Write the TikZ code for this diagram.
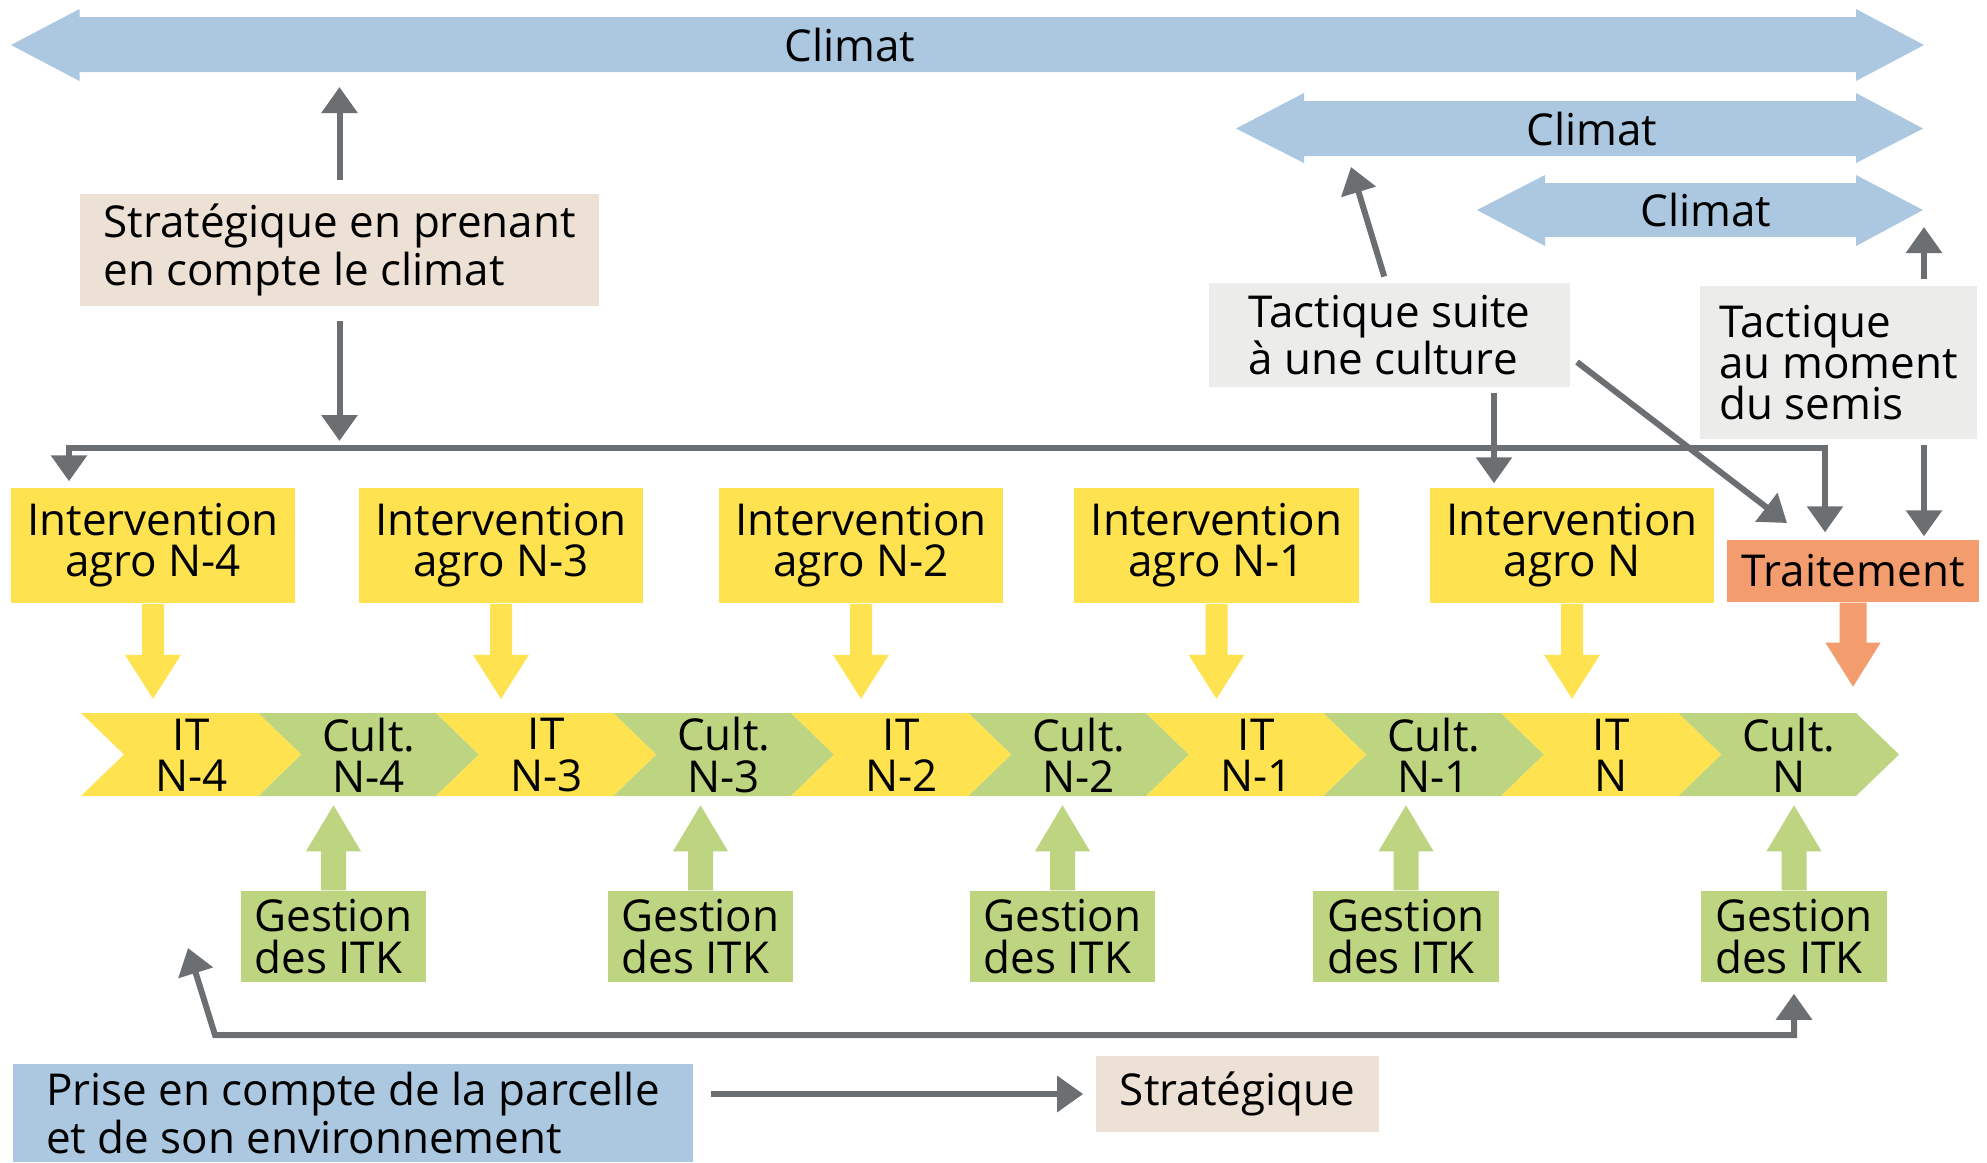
\documentclass[tikz,border=0pt]{standalone}
\usepackage{fontspec}
\setmainfont{Open Sans}
\usetikzlibrary{arrows.meta,calc}
\definecolor{cblue}{HTML}{ABC8E0}
\definecolor{cbeige}{HTML}{EDE1D6}
\definecolor{clgrey}{HTML}{ECEDEB}
\definecolor{cyel}{HTML}{FEE250}
\definecolor{cgreen}{HTML}{BDD480}
\definecolor{corange}{HTML}{F39C6E}
\definecolor{cgrey}{HTML}{6C6F72}
\newcommand{\blkarrow}[6]{\fill[#2] (#1) ++(-#3,0) -- ++(0,#4) -- ++(#3-#5,0) -- ++(#5,#6) -- ++(#5,{-1*(#6)}) -- ++(#3-#5,0) -- ++(0,{-1*(#4)}) -- cycle;}
\begin{document}
\begin{tikzpicture}[x=0.01cm,y=-0.01cm,
  every node/.style={font=\fontsize{12.5}{11.7}\selectfont, text=black, inner sep=0pt},
  >={Triangle[width=0.35cm,length=0.26cm]},
  gline/.style={draw=cgrey, line width=0.06cm},
  garr/.style={gline, ->},
  boxl/.style={rectangle, align=left},
  ybox/.style={rectangle, fill=cyel, align=center, minimum width=2.84cm, minimum height=1.15cm},
  gbox/.style={rectangle, fill=cgreen, align=left, minimum width=1.85cm, minimum height=0.91cm},
  segtext/.style={align=center}
]
\useasboundingbox[fill=white] (0,0) rectangle (1987,1162);

% Climat arrows
\fill[cblue] (11,45) -- (79.5,9) -- (79.5,17) -- (1856,17) -- (1856,9) -- (1924,45) -- (1856,81) -- (1856,72) -- (79.5,72) -- (79.5,81) -- cycle;
\node (clim1) at (850,45) {Climat};
\fill[cblue] (1236,128.5) -- (1304,93) -- (1304,101) -- (1856,101) -- (1856,93) -- (1923,128.5) -- (1856,163) -- (1856,156) -- (1304,156) -- (1304,163) -- cycle;
\node (clim2) at (1592,128.5) {Climat};
\fill[cblue] (1477,210) -- (1545,175) -- (1545,183) -- (1856,183) -- (1856,175) -- (1923,210) -- (1856,246) -- (1856,237) -- (1545,237) -- (1545,246) -- cycle;
\node (clim3) at (1706,210) {Climat};

% boxes
\node[boxl, fill=cbeige, minimum width=5.19cm, minimum height=1.12cm] (strat) at (339.5,250) {Stratégique en prenant\\en compte le climat};
\node[boxl, fill=clgrey, minimum width=3.61cm, minimum height=1.04cm] (tsuite) at (1389.5,335) {Tactique suite\\à une culture};
\node[boxl, fill=clgrey, minimum width=2.77cm, minimum height=1.53cm] (tmom) at (1838.5,362.5) {Tactique\\au moment\\du semis};

\node[ybox] (in4) at (153,545.5) {Intervention\\agro N-4};
\node[ybox] (in3) at (501,545.5) {Intervention\\agro N-3};
\node[ybox] (in2) at (861,545.5) {Intervention\\agro N-2};
\node[ybox] (in1) at (1216.5,545.5) {Intervention\\agro N-1};
\node[ybox] (inN) at (1572,545.5) {Intervention\\agro N};
\node[rectangle, fill=corange, minimum width=2.52cm, minimum height=0.62cm] (trait) at (1853,571) {Traitement};

% block arrows down
\foreach \n in {in4,in3,in2,in1,inN}{\blkarrow{\n.south}{cyel}{11}{51}{28}{44}}
\blkarrow{trait.south}{corange}{13.5}{40}{27.5}{44}

% chevron strip
\foreach \k/\t/\c in {0/{IT\\N-4}/cyel, 1/{Cult.\\N-4}/cgreen, 2/{IT\\N-3}/cyel, 3/{Cult.\\N-3}/cgreen, 4/{IT\\N-2}/cyel, 5/{Cult.\\N-2}/cgreen, 6/{IT\\N-1}/cyel, 7/{Cult.\\N-1}/cgreen, 8/{IT\\N}/cyel, 9/{Cult.\\N}/cgreen}{
  \pgfmathsetmacro\xl{81+177.5*\k}
  \pgfmathsetmacro\xr{\xl+177.5}
  \fill[\c] (\xl,713) -- (\xr,713) -- (\xr+43,754.5) -- (\xr,796) -- (\xl,796) -- (\xl+43,754.5) -- cycle;
  \node[segtext] (seg\k) at ({(\xl+\xr)/2+21.5},755) {\t};
}

% gestion boxes
\node[gbox] (g1) at (333.5,936.5) {Gestion\\des ITK};
\node[gbox] (g2) at (700.5,936.5) {Gestion\\des ITK};
\node[gbox] (g3) at (1062.5,936.5) {Gestion\\des ITK};
\node[gbox] (g4) at (1406,936.5) {Gestion\\des ITK};
\node[gbox] (g5) at (1794,936.5) {Gestion\\des ITK};
\foreach \n in {g1,g2,g3,g4,g5}{\blkarrow{\n.north}{cgreen}{12.5}{-39}{27.5}{-46}}

% bottom boxes
\node[boxl, fill=cblue, minimum width=6.80cm, minimum height=0.98cm] (prise) at (353,1113) {Prise en compte de la parcelle\\et de son environnement};
\node[boxl, fill=cbeige, minimum width=2.83cm, minimum height=0.76cm] (strat2) at (1237.5,1094) {Stratégique};

% grey connectors
\coordinate (c1foot) at (339.5,87);
\coordinate (busIn) at (339.5,441);
\coordinate (busL) at (69,448);
\coordinate (busR) at (1825,448);
\coordinate (c2foot) at (1351,167);
\coordinate (tsd) at (1494,0);
\coordinate (dgA) at (1577,362);
\coordinate (dgB) at (1787,523);
\coordinate (tmx) at (1924,0);
\coordinate (c3foot) at (1924,227);
\coordinate (lpL) at (215,1035);
\coordinate (lpTip) at (188,948);

\draw[garr, shorten <=0.13cm] (strat.north) -- (c1foot);
\draw[garr, shorten <=0.14cm] (strat.south) -- (busIn);
\draw[gline, <->, shorten <=0.06cm, shorten >=0.07cm] (busL |- in4.north) -- (busL) -- (busR) -- (busR |- trait.north);
\draw[garr, shorten <=0.06cm] ([xshift=-0.035cm]tsuite.north) -- (c2foot);
\draw[garr, shorten <=0.05cm, shorten >=0.04cm] (tsuite.south -| tsd) -- (inN.north -| tsd);
\draw[garr] (dgA) -- (dgB);
\draw[garr, shorten <=0.06cm] (tmom.north -| tmx) -- (c3foot);
\draw[garr, shorten <=0.05cm, shorten >=0.03cm] (tmom.south -| tmx) -- (trait.north -| tmx);
\draw[gline, <->, shorten <=0.11cm] (g5.south) -- (g5.south |- lpL) -- (lpL) -- (lpTip);
\draw[garr, shorten <=0.17cm, shorten >=0.12cm] (prise.east |- strat2.west) -- (strat2.west);
\end{tikzpicture}
\end{document}
